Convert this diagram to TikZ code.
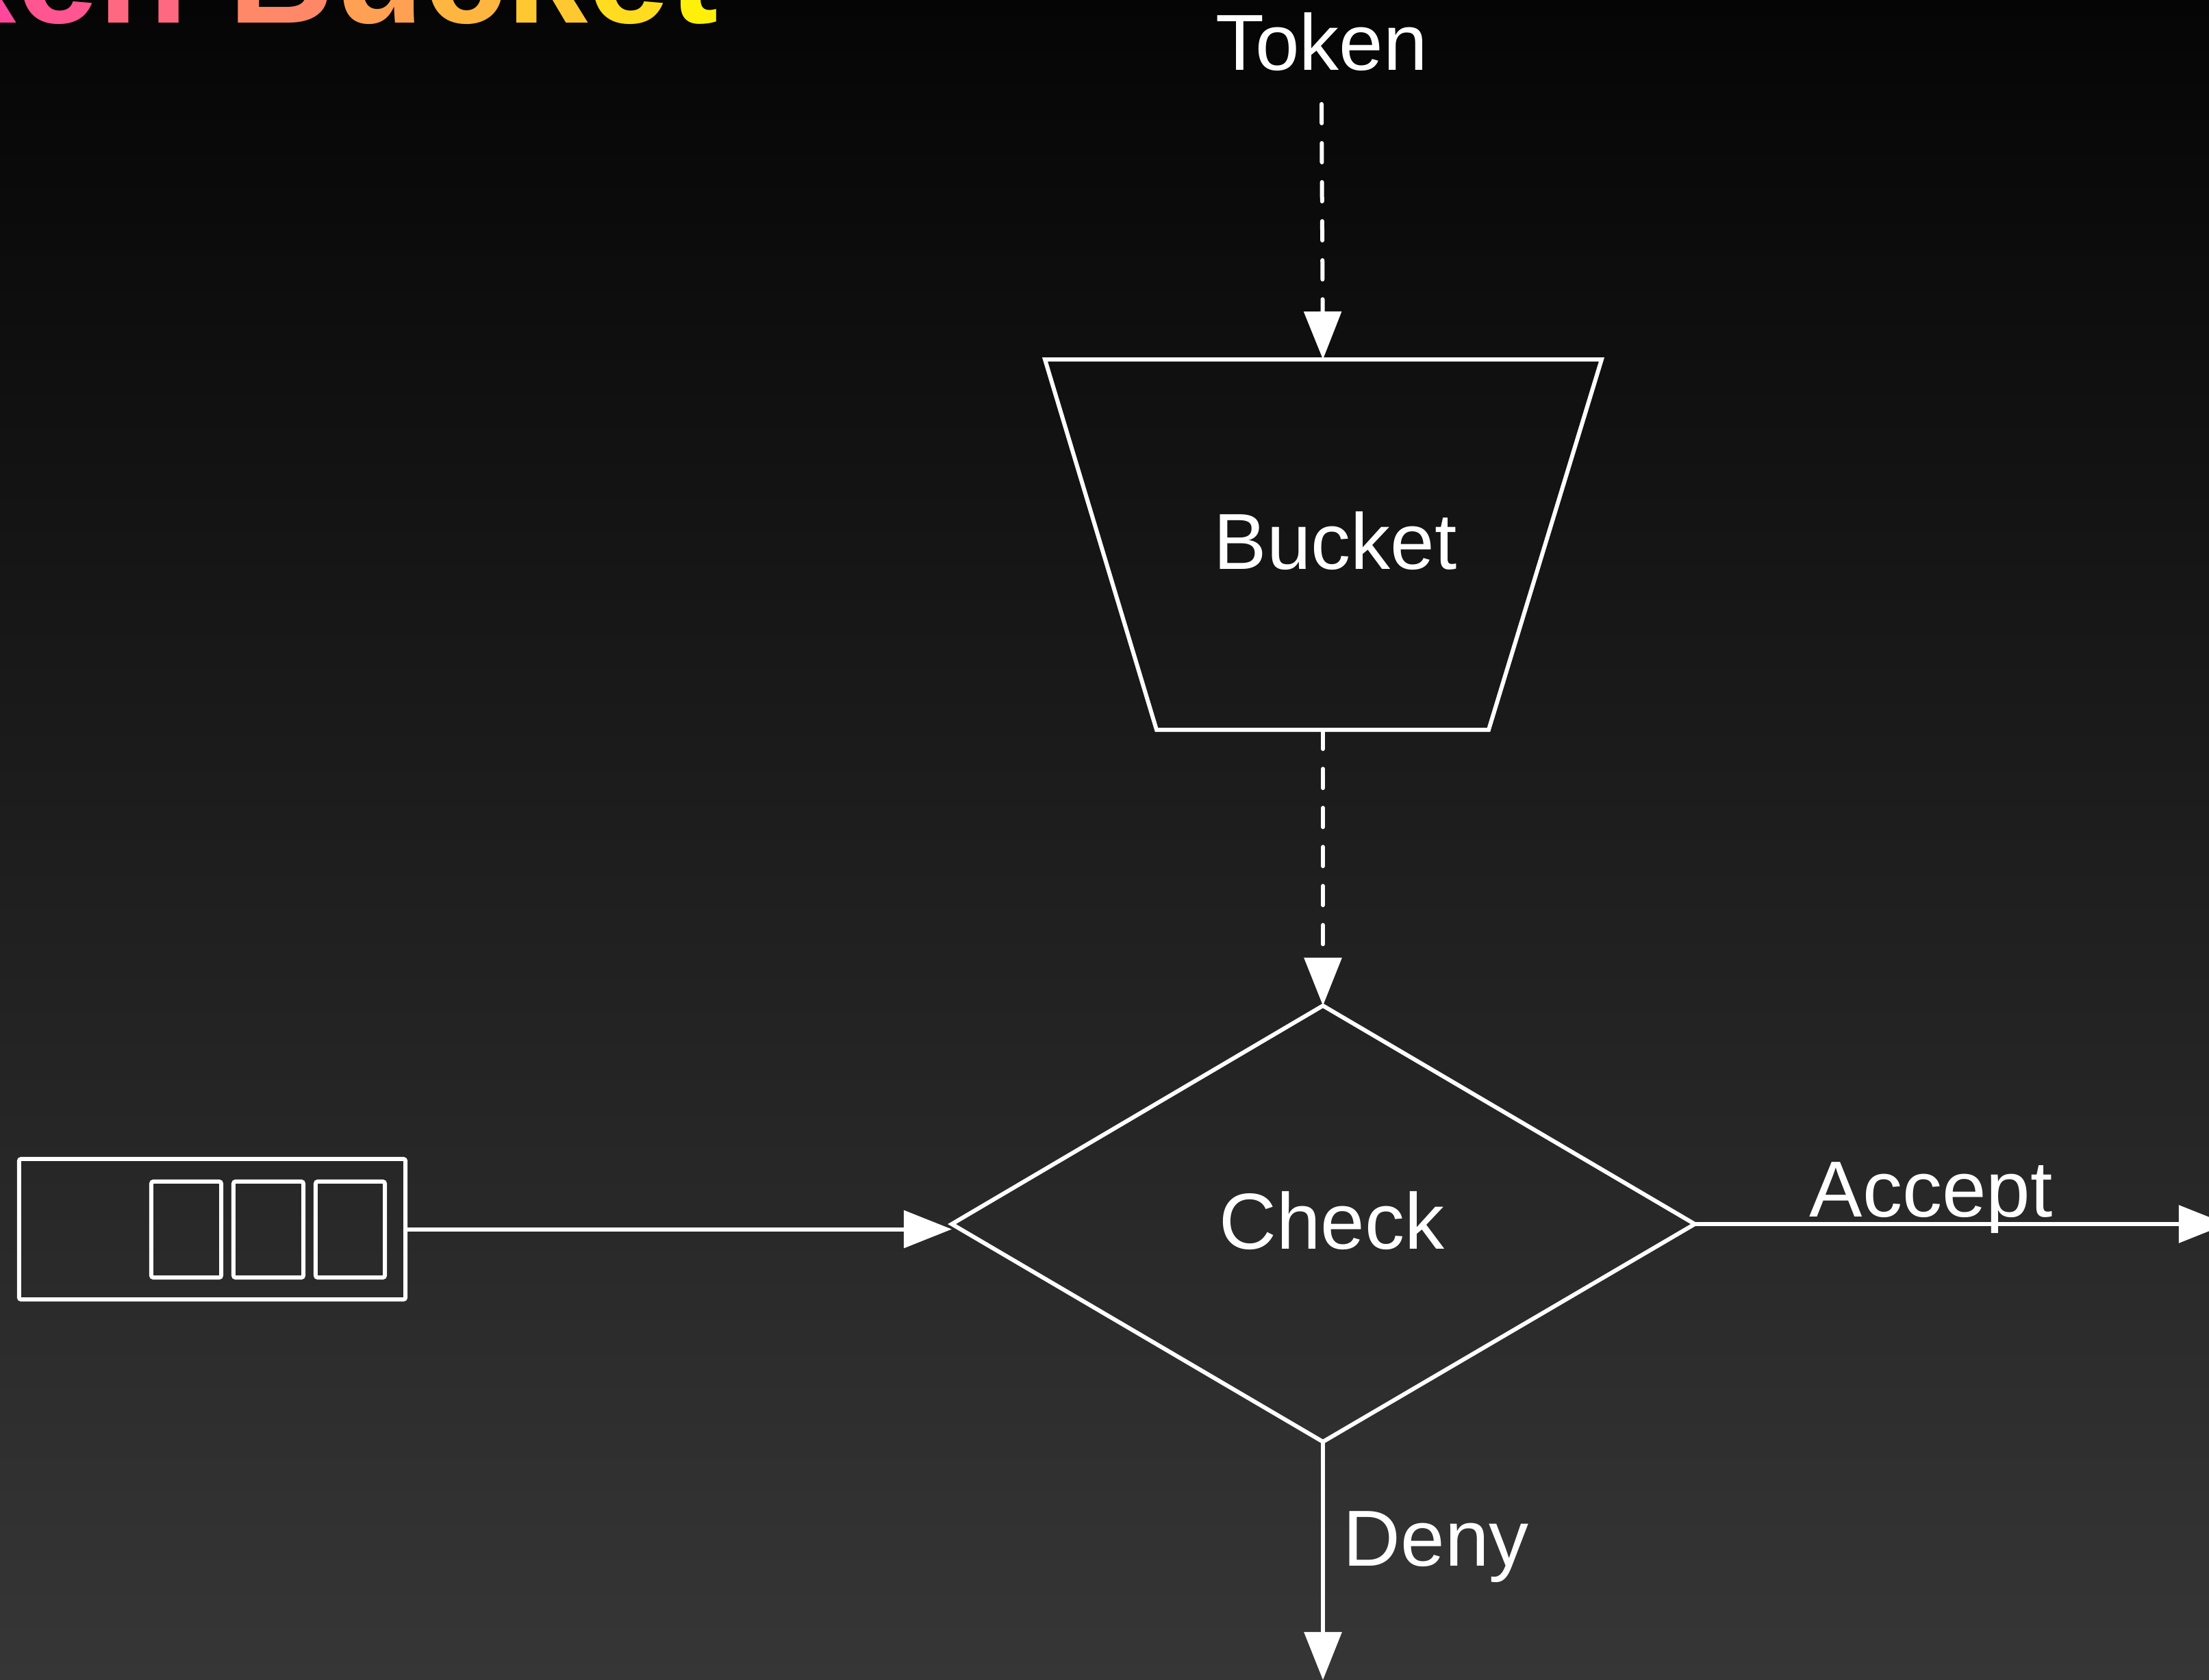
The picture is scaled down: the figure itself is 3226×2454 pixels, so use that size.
\documentclass[tikz,border=0pt]{standalone}
\usepackage{fontspec}
\setmainfont{Liberation Sans}
\usetikzlibrary{arrows.meta}
\definecolor{bgtop}{HTML}{050505}
\definecolor{bgbot}{HTML}{363636}
\definecolor{g1}{HTML}{FF3AAC}
\definecolor{g2}{HTML}{FF40A4}
\definecolor{g3}{HTML}{FF489C}
\definecolor{g4}{HTML}{FF5590}
\definecolor{g5}{HTML}{FF6880}
\definecolor{g6}{HTML}{FF8868}
\definecolor{g7}{HTML}{FFA052}
\definecolor{g8}{HTML}{FFB640}
\definecolor{g9}{HTML}{FFC830}
\definecolor{g10}{HTML}{FFDC20}
\definecolor{g11}{HTML}{FFF00C}
\begin{document}
\begin{tikzpicture}[x=0.01cm,y=-0.01cm,
  lbl/.style={text=white,font=\fontsize{33}{40}\selectfont,inner sep=0},
  wline/.style={draw=white,line width=0.06cm,line join=miter},
  flow/.style={draw=white,line width=0.06cm,-{Triangle[length=0.7cm,width=0.54cm]}},
  dflow/.style={flow,line cap=round,dash pattern=on 0.28cm off 0.29cm},
  qbox/.style={draw=white,line width=0.06cm,rounded corners=0.03cm,inner sep=0}]
\shade[top color=bgtop,bottom color=bgbot] (0,0) rectangle (3226,2454);
\useasboundingbox (0,0) rectangle (3226,2454);
\clip (0,0) rectangle (3226,2454);

% title
\node[anchor=base east,inner sep=0,font=\fontsize{61}{70}\selectfont\bfseries] (title) at (1050,33)
  {\textcolor{g1}{T}\textcolor{g2}{o}\textcolor{g3}{k}\textcolor{g4}{e}\textcolor{g5}{n} \textcolor{g6}{B}\textcolor{g7}{u}\textcolor{g8}{c}\textcolor{g9}{k}\textcolor{g10}{e}\textcolor{g11}{t}};

% token label
\node[lbl,anchor=base] (token) at (1930,102) {Token};
\coordinate (tokenfoot) at (1930,152);

% bucket
\coordinate (btl) at (1526,525);
\coordinate (btr) at (2339,525);
\coordinate (bbr) at (2174,1066);
\coordinate (bbl) at (1689,1066);
\coordinate (bt) at (1932,525);
\coordinate (bb) at (1932,1066);
\draw[wline] (btl) -- (btr) -- (bbr) -- (bbl) -- cycle;
\node[lbl,anchor=base] (bucket) at (1950,831) {Bucket};

% check diamond
\coordinate (ct) at (1932,1469);
\coordinate (cr) at (2475,1788);
\coordinate (cb) at (1932,2106);
\coordinate (cl) at (1390,1788);
\draw[wline] (ct) -- (cr) -- (cb) -- (cl) -- cycle;
\node[lbl,anchor=base] (check) at (1945,1824) {Check};

% queue
\node[qbox,minimum width=5.64cm,minimum height=2.05cm] (queue) at (310,1795.5) {};
\node[qbox,minimum width=1.02cm,minimum height=1.40cm] (q1) at (272,1796) {};
\node[qbox,minimum width=1.02cm,minimum height=1.40cm] (q2) at (392,1796) {};
\node[qbox,minimum width=1.01cm,minimum height=1.40cm] (q3) at (511.5,1796) {};

% connectors
\draw[dflow] (tokenfoot) -- (bt);
\draw[dflow] (bb) -- (ct);
\draw[flow] (queue.east) -- (queue.east -| cl);
\coordinate (acceptend) at (3252,1788);
\draw[flow] (cr) -- (acceptend);
\node[lbl,anchor=base] (accept) at (2820,1777) {Accept};
\coordinate (denyend) at (1932,2454);
\draw[flow] (cb) -- (denyend);
\node[lbl,anchor=base west] (deny) at (1961,2287) {Deny};
\end{tikzpicture}
\end{document}
